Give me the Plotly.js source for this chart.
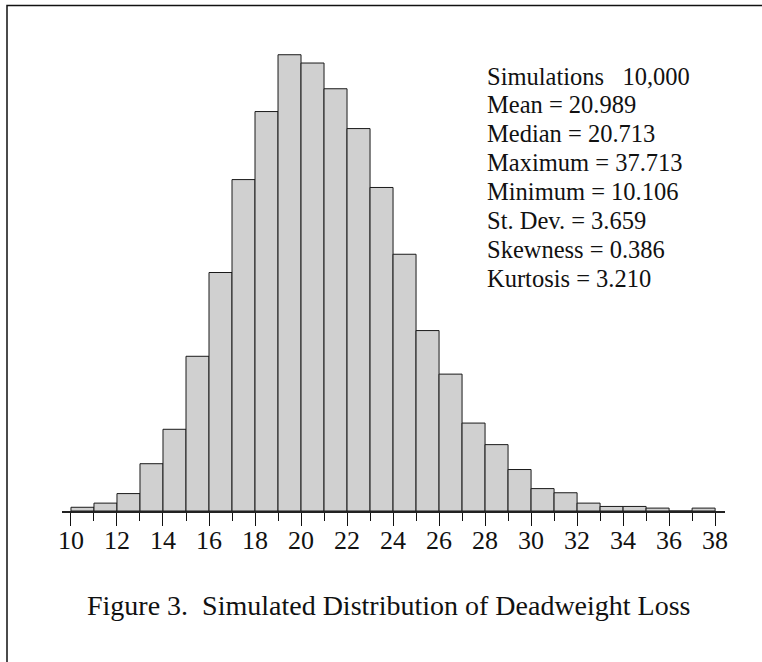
<!DOCTYPE html>
<html>
<head>
<meta charset="utf-8">
<script src="https://cdn.plot.ly/plotly-3.0.1.min.js"></script>
<style>
  html, body { margin: 0; padding: 0; background: #ffffff; }
  #chart { width: 762px; height: 662px; }
</style>
</head>
<body>
<div id="chart"></div>
<script>
// Bin lower edges (bin width 1) and simulated counts per bin
const binStarts = [10, 11, 12, 13, 14, 15, 16, 17, 18, 19, 20, 21, 22, 23,
                   24, 25, 26, 27, 28, 29, 30, 31, 32, 33, 34, 35, 36, 37];
const binCounts = [9, 19, 42, 114, 197, 373, 575, 799, 963, 1100, 1080, 1018, 922, 780,
                   619, 435, 330, 212, 160, 100, 54, 44, 19, 11, 11, 7, 0, 7];
const binWidth = 1;

// Summary statistics
const statLabels = ["Simulations\u00A0\u00A0\u00A0", "Mean = ", "Median = ", "Maximum = ",
                    "Minimum = ", "St. Dev. = ", "Skewness = ", "Kurtosis = "];
const statValues = ["10,000", "20.989", "20.713", "37.713", "10.106", "3.659", "0.386", "3.210"];

const captionText = "Figure 3.\u00A0 Simulated Distribution of Deadweight Loss";

// Tick labels
const tickVals = [10, 12, 14, 16, 18, 20, 22, 24, 26, 28, 30, 32, 34, 36, 38];
const tickText = tickVals.map(String);

const FONT = "Liberation Serif, Times New Roman, serif";
const W = 762, H = 662;
const M = {l: 62, r: 37, t: 34, b: 151};
const plotW = W - M.l - M.r, plotH = H - M.t - M.b;
const px2paperX = px => (px - M.l) / plotW;
const px2paperY = py => (H - M.b - py) / plotH;

const trace = {
  type: "bar",
  x: binStarts.map(s => s + binWidth / 2),
  y: binCounts,
  width: binWidth,
  marker: { color: "#d0d0d0", line: { color: "#1a1a1a", width: 1 } },
  hoverinfo: "x+y"
};

const annotations = statLabels.map((lab, i) => ({
  xref: "paper", yref: "paper",
  x: px2paperX(485), y: px2paperY(76 + i * 28.9),
  xanchor: "left", yanchor: "middle",
  text: lab + statValues[i],
  showarrow: false,
  font: { family: FONT, size: 24.5, color: "#111" }
}));
annotations.push({
  xref: "paper", yref: "paper",
  x: px2paperX(389), y: px2paperY(605),
  xanchor: "center", yanchor: "middle",
  text: captionText, showarrow: false,
  font: { family: FONT, size: 28, color: "#111" }
});

const layout = {
  width: W, height: H,
  margin: { l: M.l, r: M.r, t: M.t, b: M.b, pad: 0 },
  paper_bgcolor: "#ffffff", plot_bgcolor: "#ffffff",
  showlegend: false,
  bargap: 0,
  xaxis: {
    range: [9.61, 38.43],
    tickmode: "array", tickvals: tickVals, ticktext: tickText,
    ticks: "outside", ticklen: 13, tickwidth: 1, tickcolor: "#111",
    ticklabelstandoff: -8,
    showline: true, linewidth: 2, linecolor: "#222",
    showgrid: false, zeroline: false,
    tickfont: { family: FONT, size: 26, color: "#111" },
    minor: { tickmode: "linear", tick0: 10, dtick: 1, ticks: "outside", ticklen: 8, tickwidth: 1, tickcolor: "#111", showgrid: false },
    fixedrange: true
  },
  yaxis: {
    range: [0, 1150], visible: false, showgrid: false, zeroline: false, fixedrange: true
  },
  annotations: annotations,
  shapes: [{
    type: "rect", xref: "paper", yref: "paper",
    x0: px2paperX(7), x1: px2paperX(790),
    y0: px2paperY(700), y1: px2paperY(5.5),
    line: { color: "#111", width: 1.5 }, fillcolor: "rgba(0,0,0,0)"
  }]
};

Plotly.newPlot("chart", [trace], layout, { displayModeBar: false, staticPlot: true });
</script>
</body>
</html>
